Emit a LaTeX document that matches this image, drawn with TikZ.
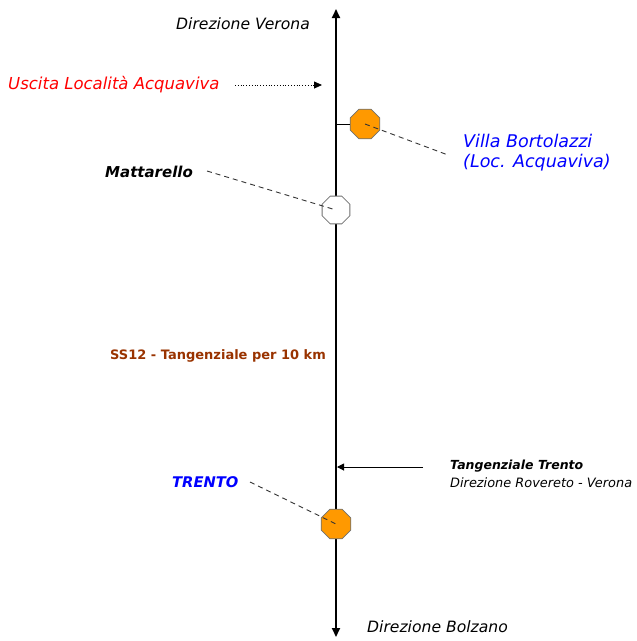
\documentclass[tikz,border=0pt]{standalone}
\usepackage{fontspec}
\setmainfont{DejaVu Sans}
\usetikzlibrary{shapes.geometric,arrows.meta}
\definecolor{oct}{HTML}{FF9900}
\definecolor{octline}{HTML}{707070}
\definecolor{lblue}{HTML}{0000FF}
\definecolor{lred}{HTML}{FF0000}
\definecolor{lbrown}{HTML}{993300}
\tikzset{
  lbl/.style={anchor=west,inner sep=0pt,font=\fontsize{15.5}{18}\selectfont\itshape},
  octo/.style={regular polygon,regular polygon sides=8,minimum size=32pt,inner sep=0pt,draw=octline,line width=0.8pt},
  dashline/.style={line width=0.9pt,draw=black!80,dash pattern=on 5pt off 4pt},
  mainline/.style={line width=1.9pt,{Triangle[length=9pt,width=8pt]}-{Triangle[length=9pt,width=8pt]}}
}
\begin{document}
\begin{tikzpicture}[x=1pt,y=-1pt]
\useasboundingbox (0,0) rectangle (637,641);
% main road
\coordinate (top) at (336,9);
\coordinate (bot) at (336,637);
\draw[mainline] (top) -- (bot);
% stub to Villa Bortolazzi
\coordinate (stub) at (336,124);
\node[octo,fill=oct] (o1) at (365,124) {};
\draw[line width=1pt] (stub) -- (o1.west);
\node[octo,fill=white,minimum size=30pt] (o2) at (336,210) {};
\node[octo,fill=oct] (o3) at (336,524) {};
% labels
\node[lbl,font=\fontsize{15.6}{18}\selectfont\itshape] (verona) at (176,24) {Direzione Verona};
\node[lbl,font=\fontsize{15.6}{18}\selectfont\itshape] (bolzano) at (367,627) {Direzione Bolzano};
\node[lbl,text=lred,font=\fontsize{16.5}{19}\selectfont\itshape] (uscita) at (8,85) {Uscita Località Acquaviva};
\node[lbl,text=lblue,font=\fontsize{17.5}{19.5}\selectfont\itshape,align=left] (villa) at (463,152.5) {Villa Bortolazzi\\(Loc. Acquaviva)};
\node[lbl,font=\fontsize{15}{17}\selectfont\itshape\bfseries] (matt) at (105,172) {Mattarello};
\node[lbl,text=lbrown,font=\fontsize{13}{15}\selectfont\bfseries] (ss12) at (110,356) {SS12 - Tangenziale per 10 km};
\node[lbl,font=\fontsize{12.5}{14}\selectfont\itshape\bfseries] (tang) at (450,466) {Tangenziale Trento};
\node[lbl,font=\fontsize{12.9}{14}\selectfont\itshape] (dirrov) at (450,483) {Direzione Rovereto - Verona};
\node[lbl,text=lblue,font=\fontsize{14.7}{17}\selectfont\itshape\bfseries] (trento) at (172,482) {TRENTO};
% connectors
\coordinate (ua) at (235,85);
\coordinate (ub) at (322,85);
\draw[dotted,line width=0.8pt,-{Triangle[length=8pt,width=7pt]}] (ua) -- (ub);
\coordinate (vd) at (448,155);
\draw[dashline] (o1.center) -- (vd);
\coordinate (md) at (207,171);
\draw[dashline] (md) -- (o2.center);
\coordinate (td) at (250,482);
\draw[dashline] (td) -- (o3.center);
\coordinate (ta) at (423,467);
\coordinate (tb) at (337,467);
\draw[line width=1pt,-{Triangle[length=7pt,width=7pt]}] (ta) -- (tb);
\end{tikzpicture}
\end{document}
